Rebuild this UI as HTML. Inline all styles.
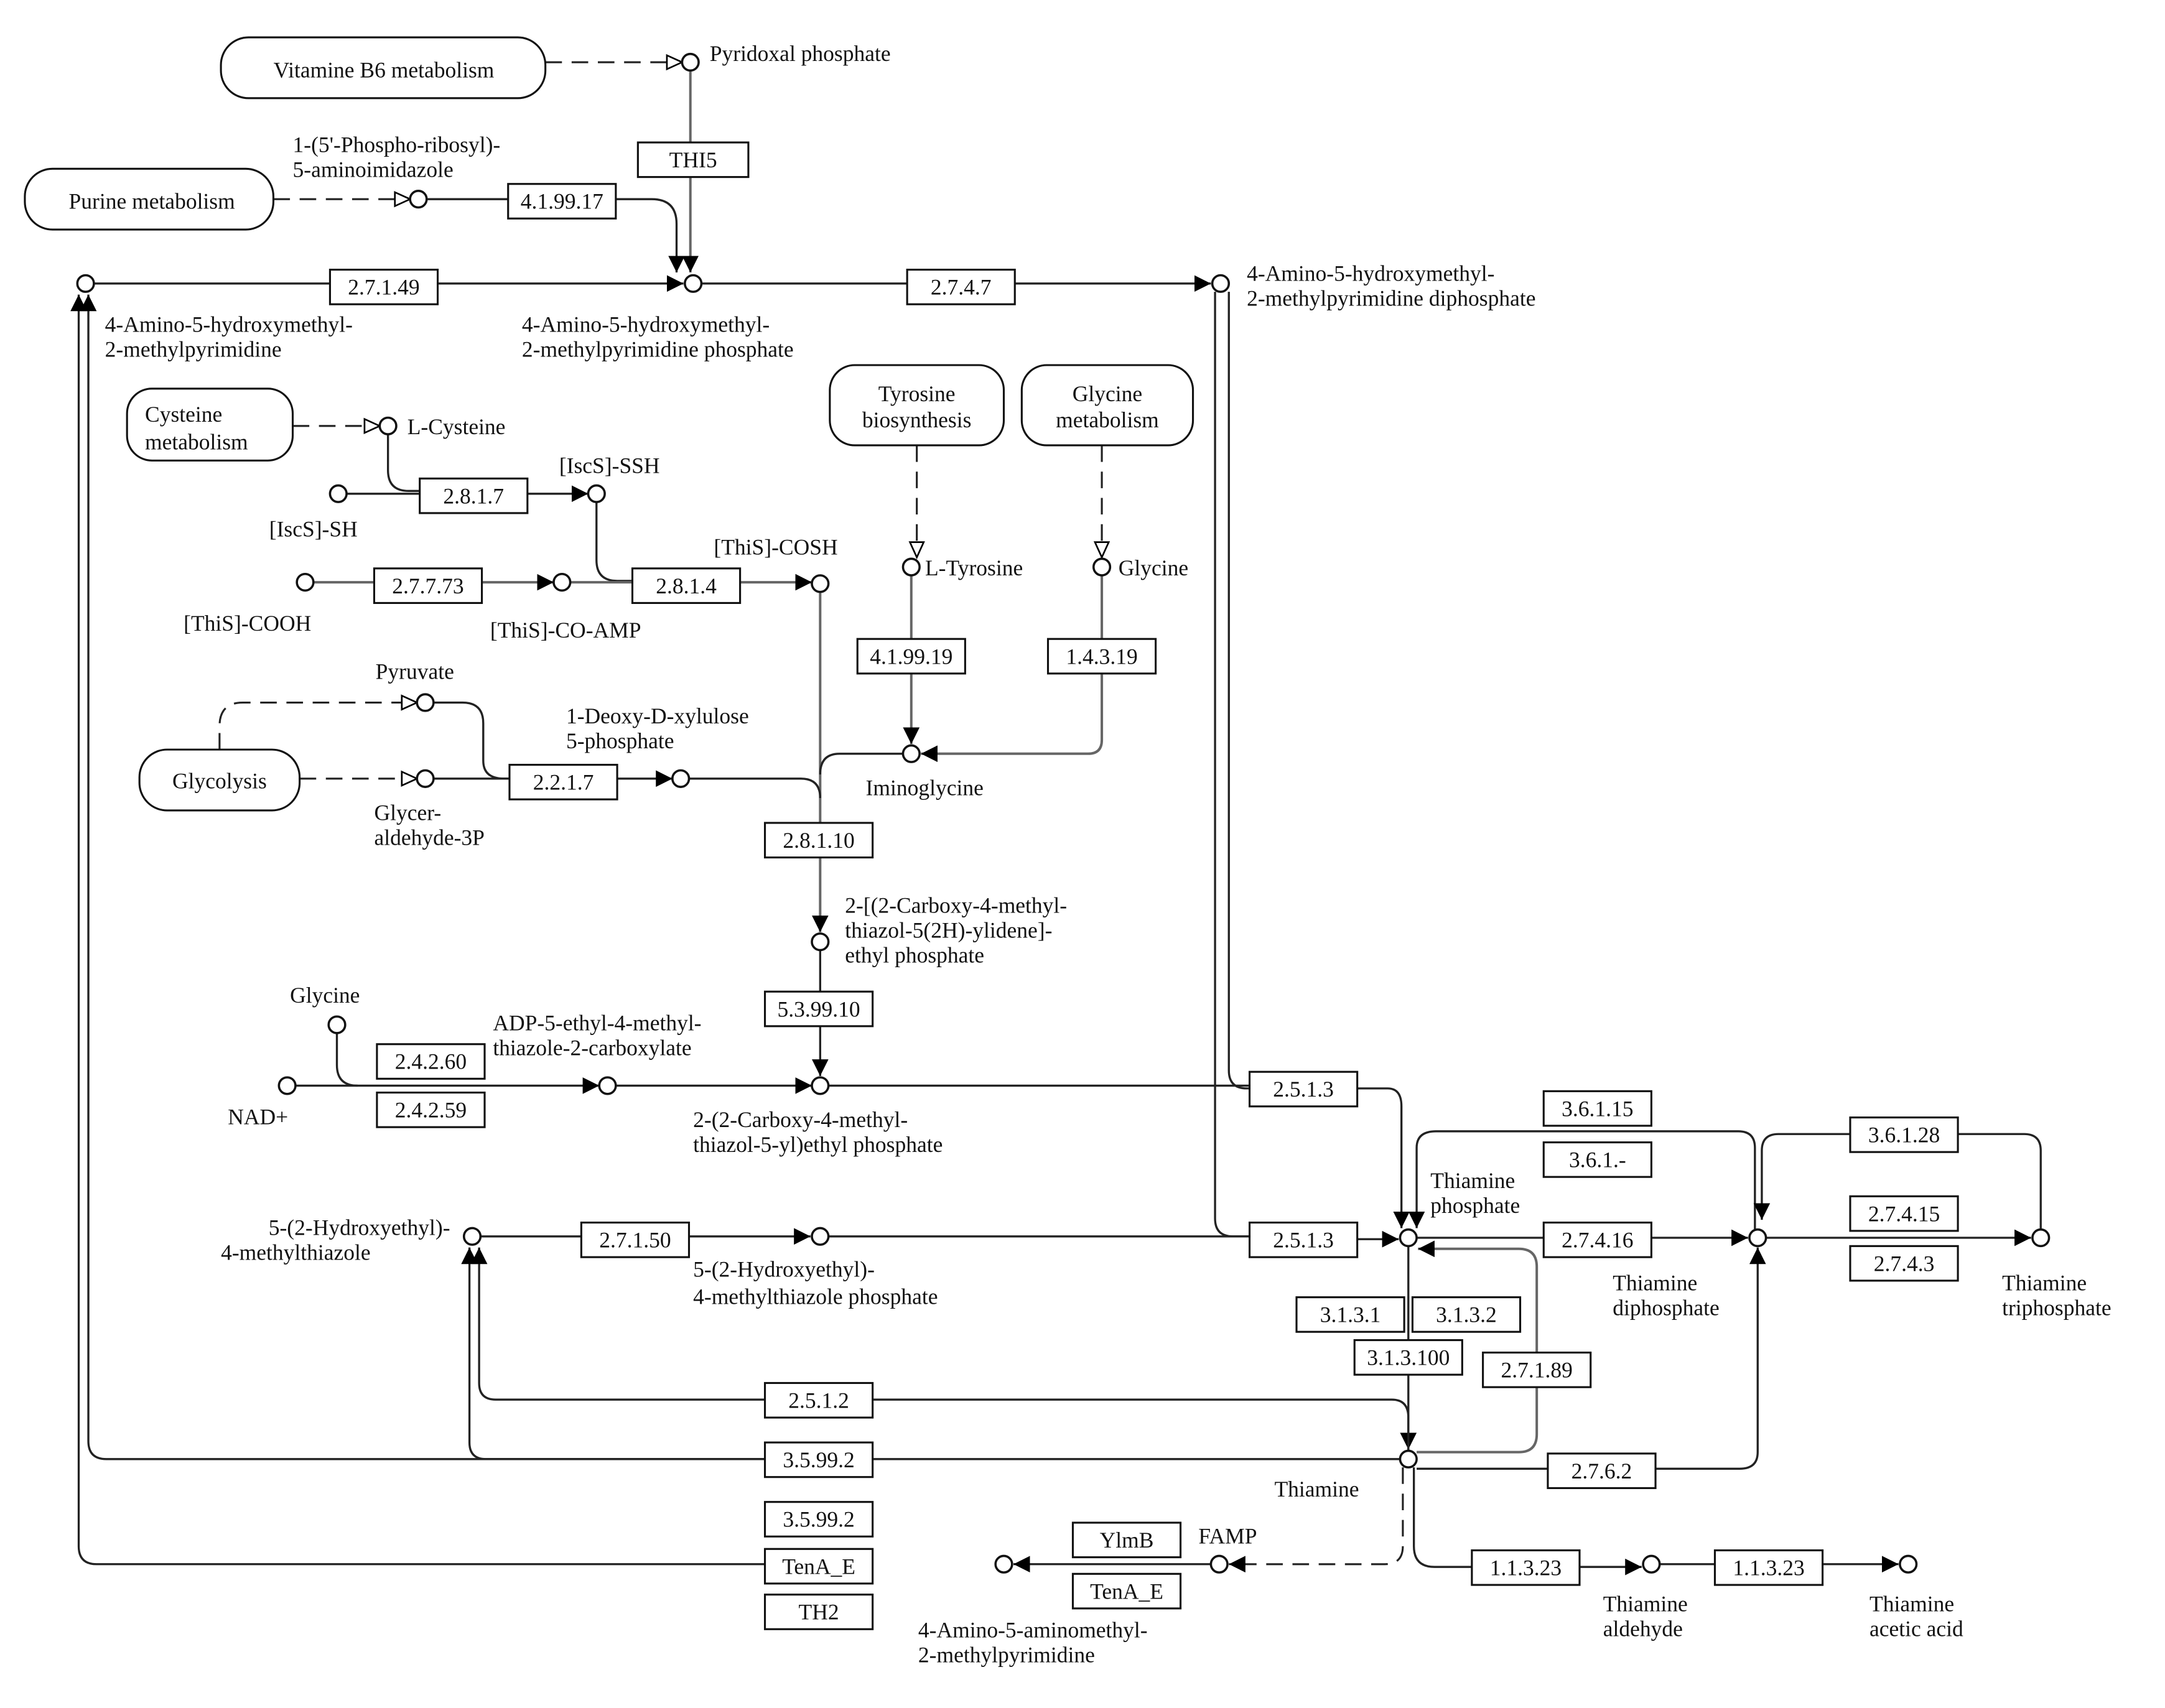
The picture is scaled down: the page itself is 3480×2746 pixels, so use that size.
<!DOCTYPE html>
<html><head><meta charset="utf-8"><style>
html,body{margin:0;padding:0;background:#fff}
svg{display:block}
text{font-family:"Liberation Serif",serif;font-size:16px;fill:#111}
.l{fill:none;stroke:#222;stroke-width:1.5}
.g{fill:none;stroke:#666;stroke-width:1.8}
.d{fill:none;stroke:#222;stroke-width:1.4;stroke-dasharray:12,7}
.b{fill:#fff;stroke:#111;stroke-width:1.4}
.c{fill:#fff;stroke:#111;stroke-width:1.6}
.m{fill:#fff;stroke:#111;stroke-width:1.4}
</style></head><body>
<svg width="3480" height="2746" viewBox="0 0 1568 1235" preserveAspectRatio="none" xmlns="http://www.w3.org/2000/svg">
<defs>
<marker id="a" markerUnits="userSpaceOnUse" markerWidth="14" markerHeight="12" refX="12" refY="6" orient="auto"><path d="M0,0 L12,6 L0,12 z" fill="#000"/></marker>
<marker id="o" markerUnits="userSpaceOnUse" markerWidth="14" markerHeight="12" refX="12" refY="6" orient="auto"><path d="M1,1 L12,6 L1,11 z" fill="#fff" stroke="#000" stroke-width="1.2"/></marker>
</defs>

<!-- lines -->
<path class="d" d="M395,45 H494" marker-end="url(#o)"/>
<path class="d" d="M198,144 H297" marker-end="url(#o)"/>
<path class="g" d="M500,51 V197" marker-end="url(#a)"/>
<path class="l" d="M309,144 H472 Q490,144 490,162 V197" marker-end="url(#a)"/>
<path class="l" d="M68,205 H495" marker-end="url(#a)"/>
<path class="l" d="M508,205 H877" marker-end="url(#a)"/>
<path class="l" d="M590,1131 H70 Q57,1131 57,1118 V213" marker-end="url(#a)"/>
<path class="l" d="M555,1055 H77 Q64,1055 64,1042 V213" marker-end="url(#a)"/>
<path class="l" d="M880,211 V881 Q880,894 893,894 H906"/>
<path class="l" d="M890,211 V774 Q890,787 903,787 H906"/>
<path class="l" d="M983,787 H1005 Q1015,787 1015,800 V888" marker-end="url(#a)"/>
<path class="l" d="M600,785 H906"/>
<path class="l" d="M348,894 H587" marker-end="url(#a)"/>
<path class="l" d="M600,894 H906"/>
<path class="l" d="M983,896 H1013" marker-end="url(#a)"/>
<path class="d" d="M212,308 H275" marker-end="url(#o)"/>
<path class="l" d="M281,314 V340 Q281,355 296,355 H305"/>
<path class="l" d="M251,357 H305"/>
<path class="l" d="M382,357 H426" marker-end="url(#a)"/>
<path class="l" d="M432,363 V405 Q432,420 447,420 H459"/>
<path class="g" d="M227,421 H401" marker-end="url(#a)"/>
<path class="g" d="M413,421 H459"/>
<path class="g" d="M536,421 H588" marker-end="url(#a)"/>
<path class="g" d="M594,428 V596"/>
<path class="g" d="M594,619 V674" marker-end="url(#a)"/>
<path class="l" d="M499,563 H580 Q594,563 594,577"/>
<path class="l" d="M654,545 H608 Q594,545 594,560"/>
<path class="d" d="M664,322 V403" stroke="#777" marker-end="url(#o)"/>
<path class="d" d="M798,322 V403" stroke="#777" marker-end="url(#o)"/>
<path class="g" d="M660,416 V462"/>
<path class="g" d="M660,486 V538" marker-end="url(#a)"/>
<path class="g" d="M798,416 V462"/>
<path class="g" d="M798,486 V535 Q798,545 788,545 H667" marker-end="url(#a)"/>
<path class="d" d="M217,563 H302" marker-end="url(#o)"/>
<path class="d" d="M159,542 V525 Q159,508 176,508 H302" marker-end="url(#o)"/>
<path class="l" d="M314,508 H335 Q350,508 350,523 V550 Q350,563 365,563 H370"/>
<path class="l" d="M314,563 H370"/>
<path class="l" d="M447,563 H487" marker-end="url(#a)"/>
<path class="l" d="M594,687 V717"/>
<path class="l" d="M594,741 V778" marker-end="url(#a)"/>
<path class="l" d="M244,747 V770 Q244,785 259,785"/>
<path class="l" d="M214,785 H434" marker-end="url(#a)"/>
<path class="l" d="M446,785 H588" marker-end="url(#a)"/>
<path class="l" d="M1020,901 V1048" marker-end="url(#a)"/>
<path class="g" d="M1026,1050 H1100 Q1113,1050 1113,1037 V916 Q1113,903 1100,903 H1027" marker-end="url(#a)"/>
<path class="l" d="M1026,895 H1266" marker-end="url(#a)"/>
<path class="l" d="M1271,889 V830 Q1271,818 1259,818 H1040 Q1026,818 1026,830 V888" marker-end="url(#a)"/>
<path class="l" d="M1478,889 V832 Q1478,820 1466,820 H1288 Q1276,820 1276,832 V882" marker-end="url(#a)"/>
<path class="l" d="M1279,895 H1471" marker-end="url(#a)"/>
<path class="l" d="M1026,1062 H1260 Q1273,1062 1273,1050 V902" marker-end="url(#a)"/>
<path class="l" d="M1020,1049 V1025 Q1020,1012 1008,1012 H359 Q347,1012 347,1000 V902" marker-end="url(#a)"/>
<path class="l" d="M1014,1055 H352 Q340,1055 340,1043 V902" marker-end="url(#a)"/>
<path class="d" d="M1016,1061 V1118 Q1016,1131 1003,1131 H890" marker-end="url(#a)"/>
<path class="l" d="M1024,1061 V1118 Q1024,1133 1039,1133 H1189" marker-end="url(#a)"/>
<path class="l" d="M1202,1131 H1375" marker-end="url(#a)"/>
<path class="l" d="M877,1131 H734" marker-end="url(#a)"/>

<!-- maps -->
<rect class="m" x="160" y="27" width="235" height="44" rx="20"/><text x="278" y="56" text-anchor="middle">Vitamine B6 metabolism</text>
<rect class="m" x="18" y="122" width="180" height="44" rx="20"/><text x="110" y="151" text-anchor="middle">Purine metabolism</text>
<rect class="m" x="92" y="281" width="120" height="52" rx="18"/><text x="105" y="305">Cysteine</text><text x="105" y="325">metabolism</text>
<rect class="m" x="601" y="264" width="126" height="58" rx="18"/><text x="664" y="290" text-anchor="middle">Tyrosine</text><text x="664" y="309" text-anchor="middle">biosynthesis</text>
<rect class="m" x="740" y="264" width="124" height="58" rx="18"/><text x="802" y="290" text-anchor="middle">Glycine</text><text x="802" y="309" text-anchor="middle">metabolism</text>
<rect class="m" x="101" y="542" width="116" height="44" rx="20"/><text x="159" y="570" text-anchor="middle">Glycolysis</text>

<!-- enzymes -->
<g text-anchor="middle">
<rect class="b" x="462" y="103" width="80" height="25"/><text x="502" y="121">THI5</text>
<rect class="b" x="368" y="133" width="78" height="25"/><text x="407" y="151">4.1.99.17</text>
<rect class="b" x="239" y="195" width="78" height="25"/><text x="278" y="213">2.7.1.49</text>
<rect class="b" x="657" y="195" width="78" height="25"/><text x="696" y="213">2.7.4.7</text>
<rect class="b" x="304" y="346" width="78" height="25"/><text x="343" y="364">2.8.1.7</text>
<rect class="b" x="271" y="411" width="78" height="25"/><text x="310" y="429">2.7.7.73</text>
<rect class="b" x="458" y="411" width="78" height="25"/><text x="497" y="429">2.8.1.4</text>
<rect class="b" x="621" y="462" width="78" height="25"/><text x="660" y="480">4.1.99.19</text>
<rect class="b" x="759" y="462" width="78" height="25"/><text x="798" y="480">1.4.3.19</text>
<rect class="b" x="369" y="553" width="78" height="25"/><text x="408" y="571">2.2.1.7</text>
<rect class="b" x="554" y="595" width="78" height="25"/><text x="593" y="613">2.8.1.10</text>
<rect class="b" x="554" y="717" width="78" height="25"/><text x="593" y="735">5.3.99.10</text>
<rect class="b" x="273" y="755" width="78" height="25"/><text x="312" y="773">2.4.2.60</text>
<rect class="b" x="273" y="790" width="78" height="25"/><text x="312" y="808">2.4.2.59</text>
<rect class="b" x="905" y="775" width="78" height="25"/><text x="944" y="793">2.5.1.3</text>
<rect class="b" x="1118" y="789" width="78" height="25"/><text x="1157" y="807">3.6.1.15</text>
<rect class="b" x="1118" y="826" width="78" height="25"/><text x="1157" y="844">3.6.1.-</text>
<rect class="b" x="1340" y="808" width="78" height="25"/><text x="1379" y="826">3.6.1.28</text>
<rect class="b" x="1340" y="865" width="78" height="25"/><text x="1379" y="883">2.7.4.15</text>
<rect class="b" x="1340" y="901" width="78" height="25"/><text x="1379" y="919">2.7.4.3</text>
<rect class="b" x="421" y="884" width="78" height="25"/><text x="460" y="902">2.7.1.50</text>
<rect class="b" x="905" y="884" width="78" height="25"/><text x="944" y="902">2.5.1.3</text>
<rect class="b" x="1118" y="884" width="78" height="25"/><text x="1157" y="902">2.7.4.16</text>
<rect class="b" x="939" y="938" width="78" height="25"/><text x="978" y="956">3.1.3.1</text>
<rect class="b" x="1023" y="938" width="78" height="25"/><text x="1062" y="956">3.1.3.2</text>
<rect class="b" x="981" y="969" width="78" height="25"/><text x="1020" y="987">3.1.3.100</text>
<rect class="b" x="1074" y="978" width="78" height="25"/><text x="1113" y="996">2.7.1.89</text>
<rect class="b" x="554" y="1000" width="78" height="25"/><text x="593" y="1018">2.5.1.2</text>
<rect class="b" x="554" y="1043" width="78" height="25"/><text x="593" y="1061">3.5.99.2</text>
<rect class="b" x="1121" y="1051" width="78" height="25"/><text x="1160" y="1069">2.7.6.2</text>
<rect class="b" x="554" y="1086" width="78" height="25"/><text x="593" y="1104">3.5.99.2</text>
<rect class="b" x="554" y="1120" width="78" height="25"/><text x="593" y="1138">TenA_E</text>
<rect class="b" x="554" y="1153" width="78" height="25"/><text x="593" y="1171">TH2</text>
<rect class="b" x="777" y="1101" width="78" height="25"/><text x="816" y="1119">YlmB</text>
<rect class="b" x="777" y="1138" width="78" height="25"/><text x="816" y="1156">TenA_E</text>
<rect class="b" x="1066" y="1121" width="78" height="25"/><text x="1105" y="1139">1.1.3.23</text>
<rect class="b" x="1242" y="1121" width="78" height="25"/><text x="1281" y="1139">1.1.3.23</text>
</g>

<!-- compounds -->
<g>
<circle class="c" cx="500" cy="45" r="6"/><circle class="c" cx="303" cy="144" r="6"/>
<circle class="c" cx="502" cy="205" r="6"/><circle class="c" cx="62" cy="205" r="6"/>
<circle class="c" cx="884" cy="205" r="6"/><circle class="c" cx="281" cy="308" r="6"/>
<circle class="c" cx="432" cy="357" r="6"/><circle class="c" cx="245" cy="357" r="6"/>
<circle class="c" cx="221" cy="421" r="6"/><circle class="c" cx="407" cy="421" r="6"/>
<circle class="c" cx="594" cy="422" r="6"/><circle class="c" cx="660" cy="410" r="6"/>
<circle class="c" cx="798" cy="410" r="6"/><circle class="c" cx="660" cy="545" r="6"/>
<circle class="c" cx="308" cy="508" r="6"/><circle class="c" cx="308" cy="563" r="6"/>
<circle class="c" cx="493" cy="563" r="6"/><circle class="c" cx="594" cy="681" r="6"/>
<circle class="c" cx="244" cy="741" r="6"/><circle class="c" cx="208" cy="785" r="6"/>
<circle class="c" cx="440" cy="785" r="6"/><circle class="c" cx="594" cy="785" r="6"/>
<circle class="c" cx="342" cy="894" r="6"/><circle class="c" cx="594" cy="894" r="6"/>
<circle class="c" cx="1020" cy="895" r="6"/><circle class="c" cx="1273" cy="895" r="6"/>
<circle class="c" cx="1478" cy="895" r="6"/><circle class="c" cx="1020" cy="1055" r="6"/>
<circle class="c" cx="883" cy="1131" r="6"/><circle class="c" cx="727" cy="1131" r="6"/>
<circle class="c" cx="1196" cy="1131" r="6"/><circle class="c" cx="1382" cy="1131" r="6"/>
</g>

<!-- labels -->
<text x="514" y="44">Pyridoxal phosphate</text>
<text x="212" y="110">1-(5'-Phospho-ribosyl)-</text><text x="212" y="128">5-aminoimidazole</text>
<text x="378" y="240">4-Amino-5-hydroxymethyl-</text><text x="378" y="258">2-methylpyrimidine phosphate</text>
<text x="76" y="240">4-Amino-5-hydroxymethyl-</text><text x="76" y="258">2-methylpyrimidine</text>
<text x="903" y="203">4-Amino-5-hydroxymethyl-</text><text x="903" y="221">2-methylpyrimidine diphosphate</text>
<text x="295" y="314">L-Cysteine</text>
<text x="405" y="342">[IscS]-SSH</text>
<text x="195" y="388">[IscS]-SH</text>
<text x="133" y="456">[ThiS]-COOH</text>
<text x="355" y="461">[ThiS]-CO-AMP</text>
<text x="517" y="401">[ThiS]-COSH</text>
<text x="670" y="416">L-Tyrosine</text>
<text x="810" y="416">Glycine</text>
<text x="627" y="575">Iminoglycine</text>
<text x="272" y="491">Pyruvate</text>
<text x="271" y="593">Glycer-</text><text x="271" y="611">aldehyde-3P</text>
<text x="410" y="523">1-Deoxy-D-xylulose</text><text x="410" y="541">5-phosphate</text>
<text x="612" y="660">2-[(2-Carboxy-4-methyl-</text><text x="612" y="678">thiazol-5(2H)-ylidene]-</text><text x="612" y="696">ethyl phosphate</text>
<text x="210" y="725">Glycine</text>
<text x="165" y="813">NAD+</text>
<text x="357" y="745">ADP-5-ethyl-4-methyl-</text><text x="357" y="763">thiazole-2-carboxylate</text>
<text x="502" y="815">2-(2-Carboxy-4-methyl-</text><text x="502" y="833">thiazol-5-yl)ethyl phosphate</text>
<text x="326" y="893" text-anchor="end">5-(2-Hydroxyethyl)-</text><text x="160" y="911">4-methylthiazole</text>
<text x="502" y="923">5-(2-Hydroxyethyl)-</text><text x="502" y="943">4-methylthiazole phosphate</text>
<text x="1036" y="859">Thiamine</text><text x="1036" y="877">phosphate</text>
<text x="1168" y="933">Thiamine</text><text x="1168" y="951">diphosphate</text>
<text x="1450" y="933">Thiamine</text><text x="1450" y="951">triphosphate</text>
<text x="923" y="1082">Thiamine</text>
<text x="868" y="1116">FAMP</text>
<text x="665" y="1184">4-Amino-5-aminomethyl-</text><text x="665" y="1202">2-methylpyrimidine</text>
<text x="1161" y="1165">Thiamine</text><text x="1161" y="1183">aldehyde</text>
<text x="1354" y="1165">Thiamine</text><text x="1354" y="1183">acetic acid</text>
</svg>
</body></html>
